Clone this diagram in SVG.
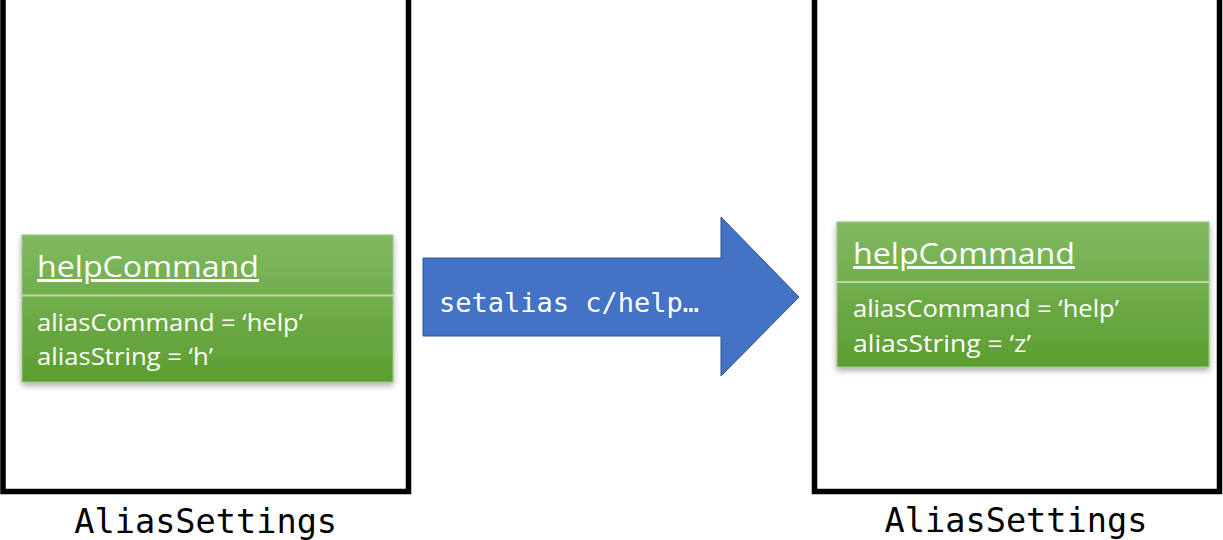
<svg xmlns="http://www.w3.org/2000/svg" width="1223" height="540" viewBox="0 0 1223 540">
<style>
.frame{fill:none;stroke:#000;stroke-width:5.5}
.box{fill:url(#g);stroke:#9cc47f;stroke-width:1}
.div{stroke:#b9d6a4;stroke-width:2}
.title{font-family:"Open Sans","Liberation Sans",sans-serif;font-size:30px;fill:#fff;text-decoration:underline}
.attr{font-family:"Open Sans","Liberation Sans",sans-serif;font-size:24px;fill:#fff}
.mono{font-family:"DejaVu Sans Mono","Liberation Mono",monospace}
.label{font-size:33.6px;fill:#000;text-anchor:middle}
.cmd{font-size:27px;fill:#fff}
</style>
<defs>
<linearGradient id="g" x1="0" y1="0" x2="0" y2="1">
<stop offset="0" stop-color="#80b961"/>
<stop offset="1" stop-color="#5c9e30"/>
</linearGradient>
<filter id="sh" x="-10%" y="-15%" width="120%" height="135%">
<feDropShadow dx="0" dy="3" stdDeviation="3" flood-color="#000" flood-opacity="0.35"/>
</filter>
</defs>
<g id="left-settings">
<path class="frame" d="M3,-5 V491.5 H408.5 V-5"/>
<text class="mono label" x="205.7" y="533">AliasSettings</text>
</g>
<g id="left-helpCommand">
<rect class="box" x="22" y="235" width="371" height="147" filter="url(#sh)"/>
<line class="div" x1="22" y1="295.5" x2="393" y2="295.5"/>
<text class="title" x="37" y="277" textLength="222" lengthAdjust="spacingAndGlyphs">helpCommand</text>
<text class="attr" x="37" y="331" textLength="266" lengthAdjust="spacingAndGlyphs">aliasCommand = ‘help’</text>
<text class="attr" x="37" y="365" textLength="176" lengthAdjust="spacingAndGlyphs">aliasString = ‘h’</text>
</g>
<g id="connectors">
<path d="M423,258 H721 V217 L799,297 L721,376 V336 H423 Z" fill="#4472c4" stroke="#2f528f" stroke-width="1"/>
<text class="mono cmd" x="439" y="312">setalias c/help…</text>
</g>
<g id="right-settings">
<path class="frame" d="M814.5,-5 V491.5 H1219.5 V-5"/>
<text class="mono label" x="1016" y="532">AliasSettings</text>
</g>
<g id="right-helpCommand">
<rect class="box" x="837" y="222" width="372" height="145" filter="url(#sh)"/>
<line class="div" x1="837" y1="282" x2="1209" y2="282"/>
<text class="title" x="853" y="264" textLength="222" lengthAdjust="spacingAndGlyphs">helpCommand</text>
<text class="attr" x="853" y="317" textLength="266" lengthAdjust="spacingAndGlyphs">aliasCommand = ‘help’</text>
<text class="attr" x="853" y="352" textLength="178" lengthAdjust="spacingAndGlyphs">aliasString = ‘z’</text>
</g>
</svg>
